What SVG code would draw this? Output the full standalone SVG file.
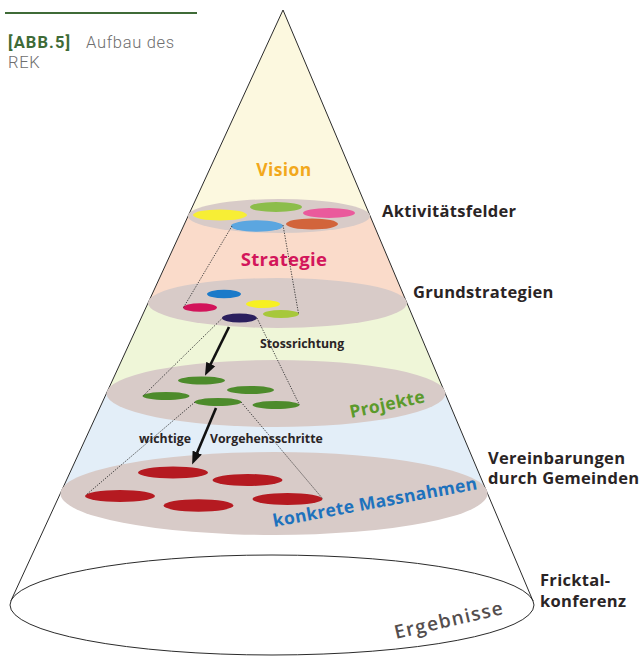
<svg xmlns="http://www.w3.org/2000/svg" width="643" height="657" viewBox="0 0 643 657">
<style>
  .lbl{font-family:"Open Sans","Noto Sans","DejaVu Sans",sans-serif;font-weight:700;fill:#2a2425;font-size:16.5px;letter-spacing:0.3px}
  .small{font-family:"Open Sans","Noto Sans","DejaVu Sans",sans-serif;font-weight:700;fill:#2a2425;font-size:12.3px}
  .layer{font-family:"Open Sans","Noto Sans","DejaVu Sans",sans-serif;font-weight:700}
  .disc{fill:#d8cbc8}
  .edge{fill:none;stroke:#2b2b2b;stroke-width:1}
  .dot{fill:none;stroke:#333;stroke-width:0.9;stroke-dasharray:1.3 1.3}
  .arrow{fill:none;stroke:#111;stroke-width:2.6;marker-end:url(#head)}
  .cap{font-family:Roboto,"Liberation Sans",sans-serif;font-size:16.5px}
</style>
<defs>
  <clipPath id="coneClip"><path d="M283,10 L11,600.6 L533,601 Z"/></clipPath>
  <marker id="head" viewBox="0 -5.5 13 11" refX="0.5" refY="0" markerWidth="13" markerHeight="11" markerUnits="userSpaceOnUse" orient="auto">
    <path d="M0,-5 L13,0 L0,5 Z" fill="#111"/>
  </marker>
</defs>
<rect width="643" height="657" fill="#ffffff"/>

<g id="caption">
  <line x1="5" y1="13" x2="197" y2="13" stroke="#3f6b37" stroke-width="2.2"/>
  <text class="cap" x="8" y="48"><tspan font-weight="700" fill="#3f6b37" letter-spacing="1.1">[ABB.5]</tspan><tspan x="86" font-weight="300" fill="#6e6e6e" letter-spacing="0.7">Aufbau des</tspan><tspan x="8" dy="20" font-weight="300" fill="#6e6e6e" letter-spacing="0.7">REK</tspan></text>
</g>

<g id="cone">
  <g clip-path="url(#coneClip)">
    <rect x="0" y="0" width="643" height="216" fill="#fcf8df"/>
    <rect x="0" y="216" width="643" height="87" fill="#fadbca"/>
    <rect x="0" y="303" width="643" height="90" fill="#eff6d8"/>
    <rect x="0" y="393" width="643" height="100" fill="#e3eef8"/>
  </g>
  <ellipse id="ergebnisse-base" cx="272" cy="605" rx="262" ry="50" fill="#ffffff" class="edge"/>
  <line class="edge" x1="283" y1="10" x2="11" y2="600.6"/>
  <line class="edge" x1="283" y1="10" x2="533" y2="601"/>
</g>

<g id="vision">
  <text class="layer" x="284" y="176" text-anchor="middle" font-size="17.5" letter-spacing="0.4" fill="#f2a81c">Vision</text>
</g>

<g id="aktivitaetsfelder">
  <ellipse class="disc" cx="279" cy="216" rx="91" ry="17"/>
  <ellipse cx="220" cy="215" rx="27" ry="5.5" fill="#f7ee35"/>
  <ellipse cx="276" cy="207" rx="26" ry="5" fill="#8cbd4b"/>
  <ellipse cx="329" cy="213" rx="26" ry="5" fill="#ea5a9c"/>
  <ellipse cx="257" cy="226" rx="26" ry="5.8" fill="#5ba6e0"/>
  <ellipse cx="312" cy="224" rx="26" ry="5.5" fill="#d2643b"/>
</g>

<g id="strategie">
  <text class="layer" x="284" y="266" text-anchor="middle" font-size="18.5" letter-spacing="0.3" fill="#d3165b">Strategie</text>
</g>

<g id="grundstrategien">
  <ellipse class="disc" cx="277.5" cy="303" rx="129.5" ry="25"/>
  <ellipse cx="224" cy="294" rx="17" ry="4.3" fill="#1b7ac9"/>
  <ellipse cx="200" cy="307.5" rx="17" ry="4.3" fill="#d2145a"/>
  <ellipse cx="263" cy="304" rx="17" ry="4" fill="#f7f021"/>
  <ellipse cx="281" cy="314" rx="18" ry="4" fill="#a7c83b"/>
  <ellipse cx="239.5" cy="318" rx="17.5" ry="4.5" fill="#2b1f5e"/>
</g>

<g id="projekte">
  <ellipse class="disc" cx="276" cy="393.5" rx="169.5" ry="33.5"/>
  <ellipse cx="201.5" cy="380.5" rx="23.5" ry="4" fill="#4d8b2b"/>
  <ellipse cx="166" cy="396" rx="23.5" ry="4" fill="#4d8b2b"/>
  <ellipse cx="250.5" cy="390" rx="23.5" ry="4" fill="#4d8b2b"/>
  <ellipse cx="218" cy="402" rx="23.5" ry="4" fill="#4d8b2b"/>
  <ellipse cx="276" cy="405" rx="23.5" ry="4" fill="#4d8b2b"/>
  <text class="layer" transform="translate(351,418) rotate(-12)" font-size="17.5" letter-spacing="0.3" fill="#5b9a2c">Projekte</text>
</g>

<g id="massnahmen">
  <ellipse class="disc" cx="274" cy="493.5" rx="213.5" ry="41.5"/>
  <ellipse cx="173" cy="472.5" rx="35" ry="6" fill="#b51a21"/>
  <ellipse cx="247.5" cy="480" rx="35" ry="6" fill="#b51a21"/>
  <ellipse cx="120" cy="496" rx="35" ry="6" fill="#b51a21"/>
  <ellipse cx="198.5" cy="505.5" rx="35" ry="6.2" fill="#b51a21"/>
  <ellipse cx="287.5" cy="499" rx="35" ry="6" fill="#b51a21"/>
  <text class="layer" transform="translate(274,527) rotate(-10.5)" font-size="17.5" letter-spacing="0.3" fill="#1e72bd">konkrete Massnahmen</text>
</g>

<g id="ergebnisse">
  <text transform="translate(396,639) rotate(-13)" font-family="'Open Sans','Noto Sans',sans-serif" font-size="19" font-weight="600" letter-spacing="1.3" fill="#544e4e">Ergebnisse</text>
</g>

<g id="connectors">
  <line class="dot" x1="232" y1="226" x2="183.5" y2="307.5"/>
  <line class="dot" x1="283" y1="225" x2="298.5" y2="313.5"/>
  <line class="dot" x1="222.5" y1="318" x2="143" y2="396"/>
  <line class="dot" x1="257" y1="318" x2="299.5" y2="405"/>
  <line class="dot" x1="195" y1="402" x2="86" y2="495"/>
  <line class="dot" x1="241" y1="402" x2="322.5" y2="498.5"/>
  <line class="arrow" x1="229" y1="327" x2="210.5" y2="364.5"/>
  <line class="arrow" x1="216" y1="408" x2="197" y2="453"/>
  <text class="small" x="260" y="348">Stossrichtung</text>
  <text class="small" x="139" y="443">wichtige</text>
  <text class="small" x="210" y="443">Vorgehensschritte</text>
</g>

<g id="labels">
  <text class="lbl" x="382" y="217">Aktivitätsfelder</text>
  <text class="lbl" x="413" y="298">Grundstrategien</text>
  <text class="lbl" x="488" y="464">Vereinbarungen<tspan x="488" dy="20">durch Gemeinden</tspan></text>
  <text class="lbl" x="540" y="586">Fricktal-<tspan x="540" dy="21">konferenz</tspan></text>
</g>
</svg>
